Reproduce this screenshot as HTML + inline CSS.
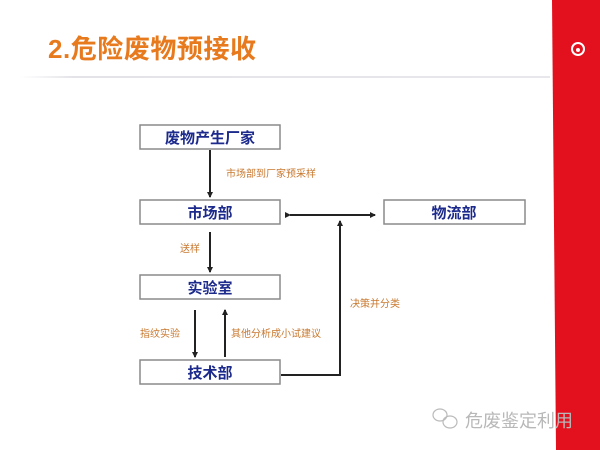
<!DOCTYPE html>
<html><head><meta charset="utf-8"><style>
body{margin:0;width:600px;height:450px;overflow:hidden;background:#fff;font-family:"Liberation Sans","Noto Sans CJK SC",sans-serif;}
</style></head><body>
<svg width="600" height="450" xmlns="http://www.w3.org/2000/svg" style="position:absolute;left:0;top:0">
<defs>
<marker id="a" markerWidth="6" markerHeight="6" refX="5" refY="3" orient="auto" markerUnits="userSpaceOnUse"><path d="M0,0 L6,3 L0,6 z" fill="#222"/></marker>
<linearGradient id="sep" x1="0" x2="1"><stop offset="0" stop-color="#fff"/><stop offset="0.1" stop-color="#e4e4e8"/><stop offset="1" stop-color="#e8e8ec"/></linearGradient>
</defs>
<rect x="20" y="76" width="530" height="2" fill="url(#sep)"/>
<polygon points="552,0 600,0 600,450 556,450" fill="#e3101e"/>
<circle cx="578" cy="49" r="6" fill="none" stroke="#fff" stroke-width="2"/>
<circle cx="578" cy="50" r="2" fill="#fff"/>
<text x="48" y="58" font-size="26" font-weight="bold" fill="#e87a1e" font-family="Liberation Sans,Noto Sans CJK SC,sans-serif" textLength="208">2.危险废物预接收</text>
<g fill="#fff" stroke="#8a8a8a" stroke-width="1.5">
<rect x="140" y="125" width="140" height="24"/>
<rect x="140" y="200" width="140" height="24"/>
<rect x="384" y="200" width="141" height="24"/>
<rect x="140" y="275" width="140" height="24"/>
<rect x="140" y="360" width="140" height="24"/>
</g>
<g font-size="15" font-weight="bold" fill="#1c2a8c" text-anchor="middle" font-family="Liberation Sans,Noto Sans CJK SC,sans-serif">
<text x="210" y="143">废物产生厂家</text>
<text x="210" y="218">市场部</text>
<text x="454" y="218">物流部</text>
<text x="210" y="293">实验室</text>
<text x="210" y="378">技术部</text>
</g>
<g stroke="#222" stroke-width="2" fill="none">
<line x1="210" y1="150" x2="210" y2="197" marker-end="url(#a)"/>
<line x1="210" y1="232" x2="210" y2="272" marker-end="url(#a)"/>
<line x1="195" y1="310" x2="195" y2="357" marker-end="url(#a)"/>
<line x1="225" y1="357" x2="225" y2="310" marker-end="url(#a)"/>
<line x1="290" y1="215" x2="375" y2="215" marker-start="url(#a)" marker-end="url(#a)"/>
<polyline points="281,375 340,375 340,221" marker-end="url(#a)"/>
</g>
<g font-size="10" fill="#c8782e" font-family="Liberation Sans,Noto Sans CJK SC,sans-serif">
<text x="226" y="177">市场部到厂家预采样</text>
<text x="180" y="252">送样</text>
<text x="350" y="307">决策并分类</text>
<text x="140" y="337">指纹实验</text>
<text x="231" y="337">其他分析成小试建议</text>
</g>
<g fill="none" stroke="#bbb" stroke-width="1.2">
<ellipse cx="440" cy="415" rx="7" ry="6"/><ellipse cx="450" cy="422" rx="7" ry="6"/>
</g>
<text x="465" y="427" font-size="18" fill="#b8b8b8" font-family="Liberation Sans,Noto Sans CJK SC,sans-serif">危废鉴定利用</text>
</svg>
</body></html>
